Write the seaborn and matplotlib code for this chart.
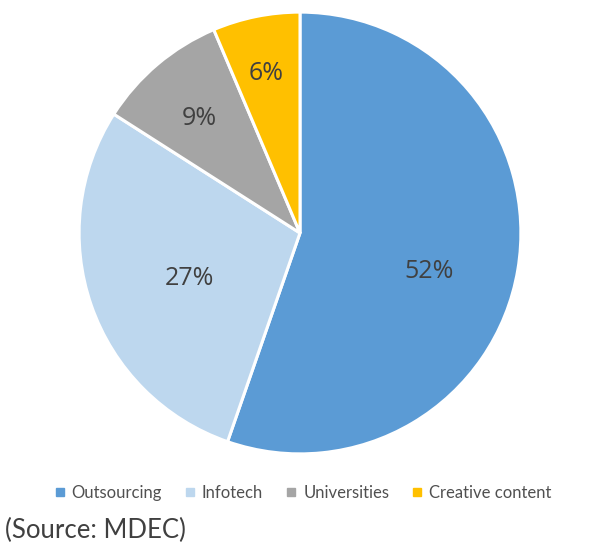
import matplotlib
matplotlib.use("Agg")
import matplotlib.pyplot as plt
from matplotlib.lines import Line2D
import numpy as np
import seaborn as sns

categories = ["Outsourcing", "Infotech", "Universities", "Creative content"]
values = [52, 27, 9, 6]
value_labels = ["52%", "27%", "9%", "6%"]
colors = ["#5B9BD5", "#BDD7EE", "#A5A5A5", "#FFC000"]
source_text = "(Source: MDEC)"

sns.set_theme(style="white")
plt.rcParams["font.family"] = ["Open Sans", "DejaVu Sans"]

fig = plt.figure(figsize=(5.98, 5.45), dpi=100)
ax = fig.add_axes([78/598, 90/545, 444/598, 444/545])

wedges, _ = ax.pie(values, colors=colors, startangle=90, counterclock=False,
                   wedgeprops=dict(edgecolor="white", linewidth=2.2), radius=1.0)

label_dist = [0.61, 0.54, 0.69, 0.74]
label_angle_shift = [-7.2, 3.5, 1.2, 0.6]
for w, lab, d, s in zip(wedges, value_labels, label_dist, label_angle_shift):
    mid = np.deg2rad((w.theta1 + w.theta2) / 2 + s)
    ax.text(d*np.cos(mid), d*np.sin(mid), lab, ha="center", va="center",
            fontsize=18, color="#404040", family=["Open Sans", "DejaVu Sans"])

ax.set_xlim(-1.005, 1.005)
ax.set_ylim(-1.005, 1.005)
ax.set_aspect("equal")
ax.axis("off")

handles = [Line2D([0], [0], marker="s", color="none", markerfacecolor=c,
                  markeredgecolor=c, markersize=5.5) for c in colors]
leg = fig.legend(handles, categories, loc="center", bbox_to_anchor=(0.507, 1 - 493/545),
                 ncol=4, frameon=False, handlelength=0.6, handletextpad=0.4,
                 columnspacing=1.4, prop={"family": ["Lato", "DejaVu Sans"], "size": 12})
for t in leg.get_texts():
    t.set_color("#505050")

fig.text(5/598, 1 - 530/545, source_text, ha="left", va="center", fontsize=18.5,
         color="#404040", family=["Lato", "DejaVu Sans"])

fig.savefig("out.png", dpi=100, facecolor="white")
